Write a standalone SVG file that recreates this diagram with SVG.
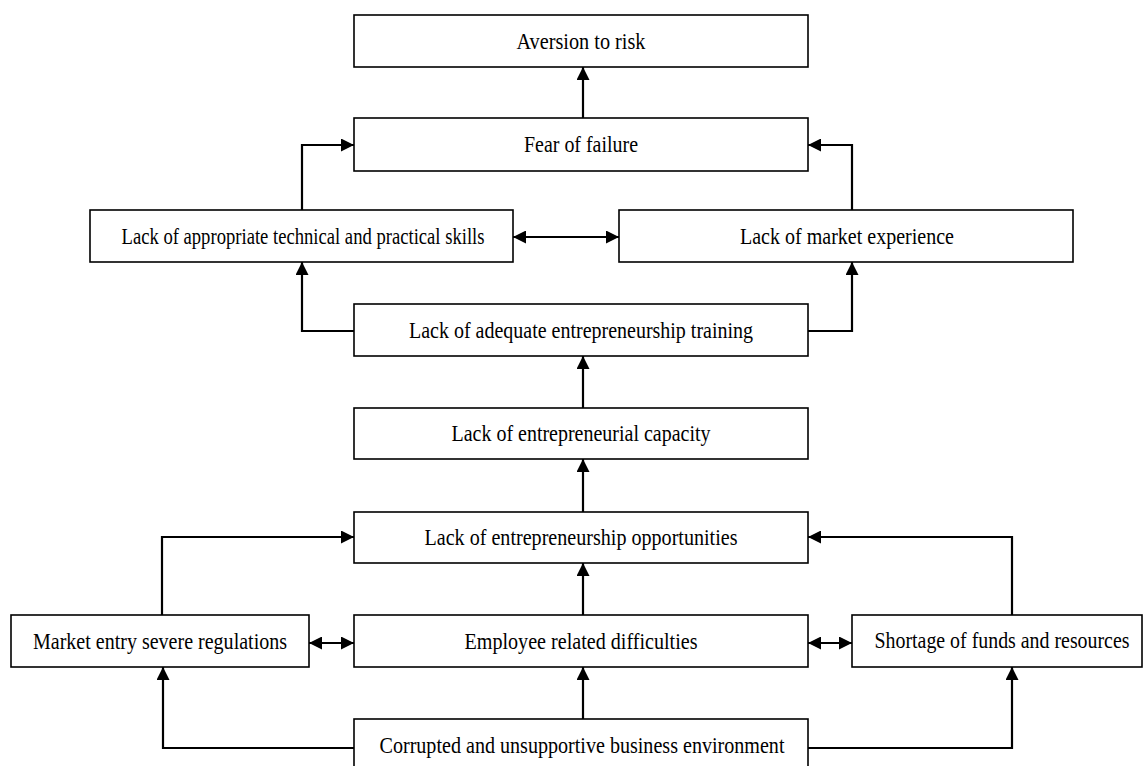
<svg xmlns="http://www.w3.org/2000/svg" width="1145" height="766" viewBox="0 0 1145 766">
<style>
.box{fill:#fff;stroke:#000;stroke-width:1.6}
.lbl{font-family:"Liberation Serif","Times New Roman",serif;font-size:24px;fill:#000;text-anchor:middle}
.c{fill:none;stroke:#000;stroke-width:2.2}
</style>
<defs>
<marker id="ah" viewBox="0 0 12 12" refX="12" refY="6" markerWidth="13" markerHeight="13" markerUnits="userSpaceOnUse" orient="auto-start-reverse">
<path d="M0,0 L12,6 L0,12 Z" fill="#000"/>
</marker>
</defs>
<rect width="1145" height="766" fill="#fff"/>
<g id="n-aversion"><rect class="box" x="354" y="15" width="454" height="52"/><text class="lbl" x="581" y="49" textLength="129" lengthAdjust="spacingAndGlyphs">Aversion to risk</text></g>
<g id="n-fear"><rect class="box" x="354" y="118" width="454" height="53"/><text class="lbl" x="581" y="152" textLength="114" lengthAdjust="spacingAndGlyphs">Fear of failure</text></g>
<g id="n-skills"><rect class="box" x="90" y="210" width="423" height="52"/><text class="lbl" x="303" y="244" textLength="363" lengthAdjust="spacingAndGlyphs">Lack of appropriate technical and practical skills</text></g>
<g id="n-market"><rect class="box" x="619" y="210" width="454" height="52"/><text class="lbl" x="847" y="244" textLength="214" lengthAdjust="spacingAndGlyphs">Lack of market experience</text></g>
<g id="n-training"><rect class="box" x="354" y="304" width="454" height="52"/><text class="lbl" x="581" y="338" textLength="344" lengthAdjust="spacingAndGlyphs">Lack of adequate entrepreneurship training</text></g>
<g id="n-capacity"><rect class="box" x="354" y="408" width="454" height="51"/><text class="lbl" x="581" y="441" textLength="259" lengthAdjust="spacingAndGlyphs">Lack of entrepreneurial capacity</text></g>
<g id="n-opportunities"><rect class="box" x="354" y="512" width="454" height="51"/><text class="lbl" x="581" y="545" textLength="313" lengthAdjust="spacingAndGlyphs">Lack of entrepreneurship opportunities</text></g>
<g id="n-regulations"><rect class="box" x="11" y="615" width="298" height="52"/><text class="lbl" x="160" y="649" textLength="254" lengthAdjust="spacingAndGlyphs">Market entry severe regulations</text></g>
<g id="n-employee"><rect class="box" x="354" y="615" width="454" height="52"/><text class="lbl" x="581" y="649" textLength="233" lengthAdjust="spacingAndGlyphs">Employee related difficulties</text></g>
<g id="n-shortage"><rect class="box" x="852" y="615" width="290" height="52"/><text class="lbl" x="1002" y="648" font-size="21" textLength="255" lengthAdjust="spacingAndGlyphs">Shortage of funds and resources</text></g>
<g id="n-corrupted"><rect class="box" x="354" y="719" width="454" height="52"/><text class="lbl" x="582" y="753" textLength="405" lengthAdjust="spacingAndGlyphs">Corrupted and unsupportive business environment</text></g>
<g id="connectors">
<line class="c" x1="583" y1="118" x2="583" y2="67" marker-end="url(#ah)"/>
<polyline class="c" points="302,210 302,145 354,145" marker-end="url(#ah)"/>
<polyline class="c" points="852,210 852,145 808,145" marker-end="url(#ah)"/>
<line class="c" x1="513" y1="237" x2="619" y2="237" marker-start="url(#ah)" marker-end="url(#ah)"/>
<polyline class="c" points="354,331 302,331 302,262" marker-end="url(#ah)"/>
<polyline class="c" points="808,331 852,331 852,262" marker-end="url(#ah)"/>
<line class="c" x1="583" y1="408" x2="583" y2="356" marker-end="url(#ah)"/>
<line class="c" x1="583" y1="512" x2="583" y2="459" marker-end="url(#ah)"/>
<line class="c" x1="583" y1="615" x2="583" y2="563" marker-end="url(#ah)"/>
<line class="c" x1="583" y1="719" x2="583" y2="667" marker-end="url(#ah)"/>
<polyline class="c" points="162,615 162,537 354,537" marker-end="url(#ah)"/>
<polyline class="c" points="1012,615 1012,537 808,537" marker-end="url(#ah)"/>
<line class="c" x1="309" y1="643" x2="354" y2="643" marker-start="url(#ah)" marker-end="url(#ah)"/>
<line class="c" x1="808" y1="643" x2="852" y2="643" marker-start="url(#ah)" marker-end="url(#ah)"/>
<polyline class="c" points="354,748 163,748 163,667" marker-end="url(#ah)"/>
<polyline class="c" points="808,748 1012,748 1012,667" marker-end="url(#ah)"/>
</g>
</svg>
